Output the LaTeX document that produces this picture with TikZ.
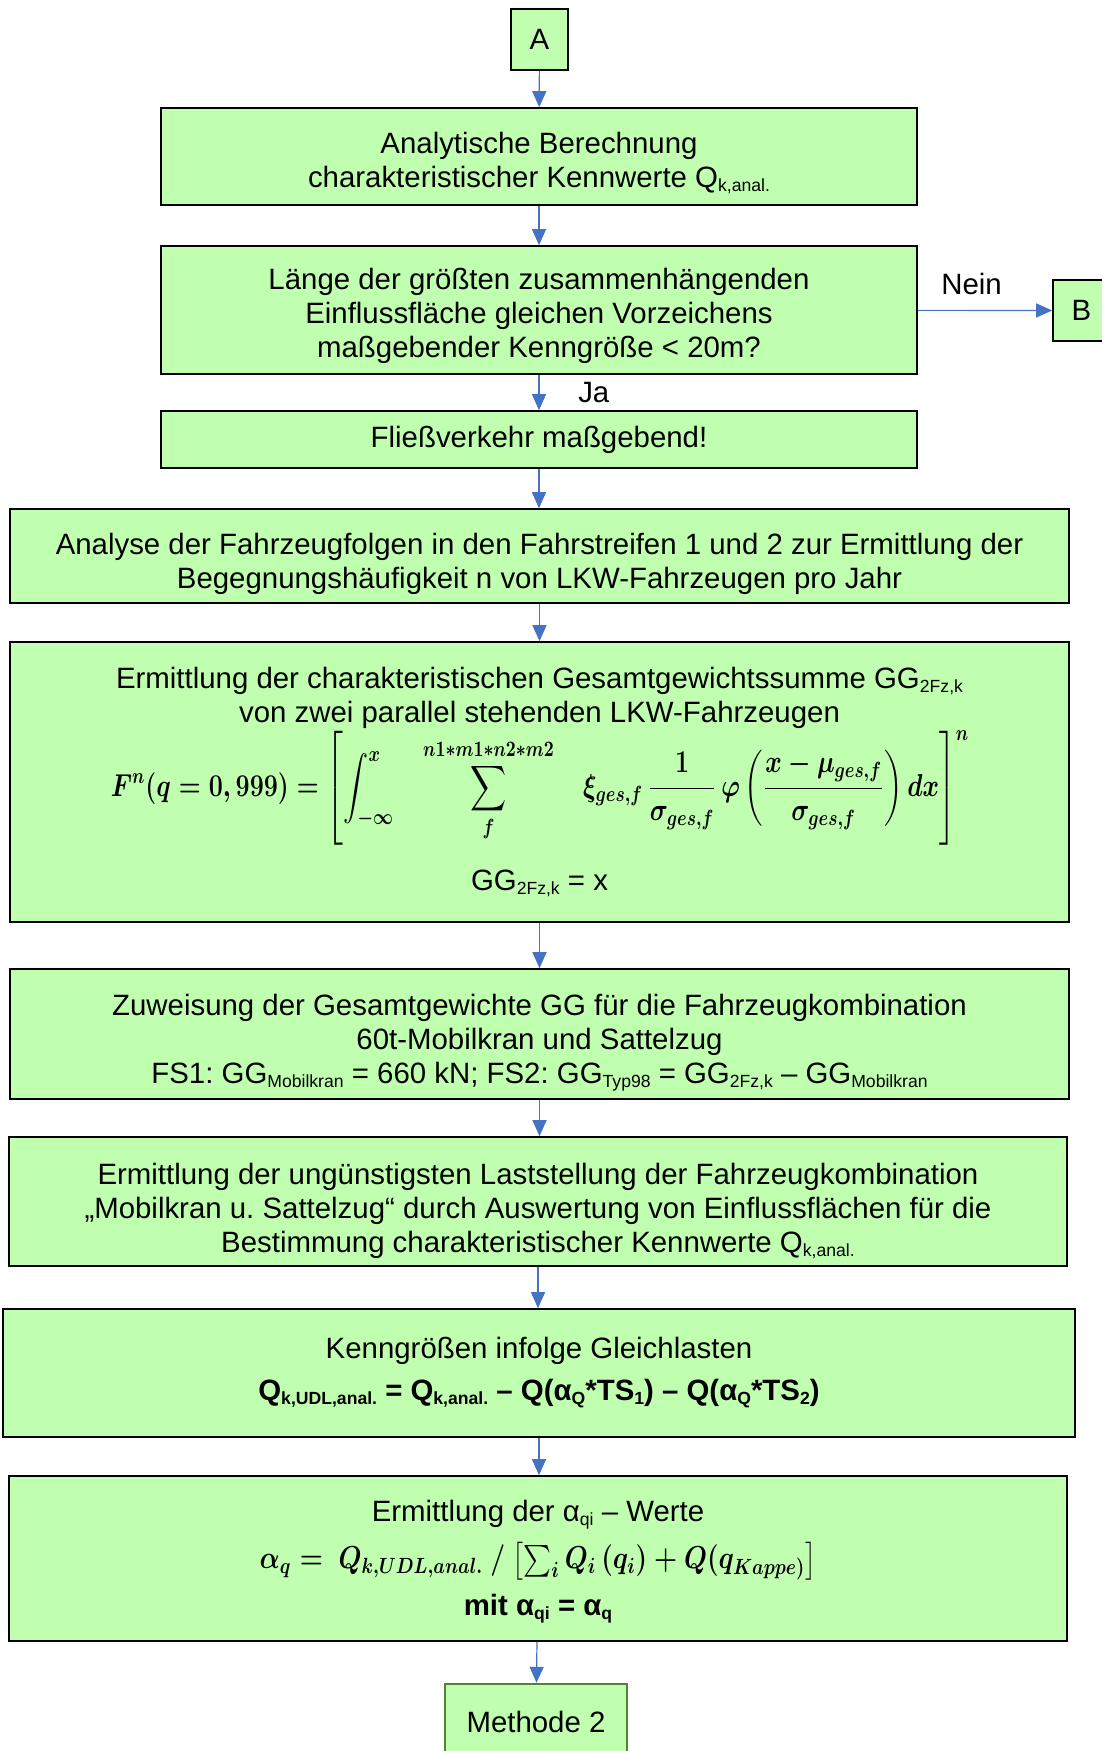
\documentclass[tikz,border=0pt]{standalone}
\usepackage{amsmath}
\usepackage{fontspec}
\setmainfont{Liberation Sans}
\usetikzlibrary{arrows.meta,positioning}
\definecolor{boxgreen}{RGB}{192,255,176}
\definecolor{flowblue}{RGB}{68,114,196}
\definecolor{termgreen}{RGB}{84,130,53}
\newcommand{\tsub}[1]{\raisebox{-2pt}{\fontsize{8.8}{9}\selectfont #1}}
\newcommand{\dropline}[1]{\rule{0pt}{#1}}
\frenchspacing

\begin{document}
\begin{tikzpicture}
  [
    x=0.5pt, y=-0.5pt,
    Green/.style={rectangle, draw=black, fill=boxgreen, line width=0.8pt, align=center, inner sep=0pt, font=\fontsize{14.7}{17}\selectfont},
    Term/.style={Green, minimum width=28.5pt, minimum height=30.5pt},
    Formula/.style={inner sep=0pt, transform shape, font=\fontsize{14}{17}\selectfont},
    Flow/.style={-{Triangle[length=8pt, width=7pt]}, draw=flowblue, line width=0.6pt}
  ]
  \useasboundingbox (0,0) rectangle (1102,1751);
  % Nodes
  \node[Term] (A) at(539.5, 39.5) {A};
  \node[Green, minimum width=378pt, minimum height=48.5pt] (calc) at(539, 156.5)
    {\dropline{17.5pt}Analytische Berechnung\\charakteristischer Kennwerte Q\tsub{k,anal.}};
  \node[Green, minimum width=378pt, minimum height=64pt] (len) at(539, 310)
    {\dropline{16.9pt}Länge der größten zusammenhängenden\\Einflussfläche gleichen Vorzeichens\\maßgebender Kenngröße < 20m?};
  \node[Term] (B) at(1081.5, 310.5) {B};
  \node[Green, minimum width=378pt, minimum height=28.5pt] (flow) at(539, 439.5) {Fließverkehr maßgebend!};
  \node[Green, minimum width=529.5pt, minimum height=47pt] (analyse) at(539.5, 556)
    {\dropline{18.6pt}Analyse der Fahrzeugfolgen in den Fahrstreifen 1 und 2 zur Ermittlung der\\Begegnungshäufigkeit n von LKW-Fahrzeugen pro Jahr};
  \node[Green, minimum width=529.5pt, minimum height=140pt] (gg) at(539.5, 782)
    {Ermittlung der charakteristischen Gesamtgewichtssumme GG\tsub{2Fz,k}\\
     von zwei parallel stehenden LKW-Fahrzeugen\\[67pt]
     GG\tsub{2Fz,k} = x};
  \coordinate (ggmid) at (540, 788);
  \node[Formula, xscale=0.87, yscale=1.1] (ggmath) at (ggmid)
    {{\boldmath$\displaystyle F^n(q=0,999)=\left[\int_{-\infty}^{x}\quad\sum_{f}^{n1*m1*n2*m2}\quad\xi_{ges,f}\,\frac{1}{\sigma_{ges,f}}\,\varphi\left(\frac{x-\mu_{ges,f}}{\sigma_{ges,f}}\right)dx\right]^{n}$}};
  \node[Green, minimum width=529.5pt, minimum height=65pt] (assign) at(539.5, 1034)
    {\dropline{19.7pt}Zuweisung der Gesamtgewichte GG für die Fahrzeugkombination\\
     60t-Mobilkran und Sattelzug\\
     FS1: GG\tsub{Mobilkran} = 660 kN; FS2: GG\tsub{Typ98} = GG\tsub{2Fz,k} – GG\tsub{Mobilkran}};
  \node[Green, minimum width=529pt, minimum height=64.5pt] (worst) at(538, 1201.5)
    {\dropline{20.3pt}Ermittlung der ungünstigsten Laststellung der Fahrzeugkombination\\
     „Mobilkran u. Sattelzug“ durch Auswertung von Einflussflächen für die\\
     Bestimmung charakteristischer Kennwerte Q\tsub{k,anal.}};
  \node[Green, minimum width=536pt, minimum height=64pt] (udl) at(539, 1373)
    {Kenngrößen infolge Gleichlasten\\[4pt]
     \textbf{Q\tsub{k,UDL,anal.} = Q\tsub{k,anal.} – Q(α\tsub{Q}*TS\tsub{1}) – Q(α\tsub{Q}*TS\tsub{2})}};
  \node[Green, minimum width=529pt, minimum height=82.5pt] (alpha) at(538, 1558.5)
    {\dropline{14.3pt}Ermittlung der α\tsub{qi} – Werte\\[30pt]
     \textbf{mit α\tsub{qi} = α\tsub{q}}};
  \coordinate (alphamid) at (538, 1561);
  \node[Formula, xscale=0.92, yscale=1.1] (alphamath) at (alphamid)
    {{\boldmath$\alpha_q=\ Q_{k,UDL,anal.}\ /\ \bigl[\textstyle\sum_i Q_i\,(q_i)+Q(q_{Kappe)}\bigr]$}};
  \node[Green, draw=termgreen, line width=1.2pt, minimum width=91pt, minimum height=38pt] (M2) at(536, 1722) {Methode 2};
  % Lines
  \path [Flow] (A) -- (calc);
  \path [Flow] (calc) -- (len);
  \path [Flow] (len.south) -- (len.south |- flow.north) node[midway, right=16pt, font=\fontsize{14.7}{17}\selectfont] {Ja};
  \path [Flow] (len) -- (B) node[pos=0.4, above=4pt, font=\fontsize{14.7}{17}\selectfont] {Nein};
  \path [Flow] (flow) -- (flow |- analyse.north);
  \path [Flow] (analyse) -- (gg);
  \path [Flow] (gg) -- (assign);
  \path [Flow] (assign) -- (assign.south |- worst.north);
  \path [Flow] (worst) -- (worst |- udl.north);
  \path [Flow] (udl) -- (udl |- alpha.north);
  \path [Flow] (alpha) -- (M2);
\end{tikzpicture}
\end{document}
